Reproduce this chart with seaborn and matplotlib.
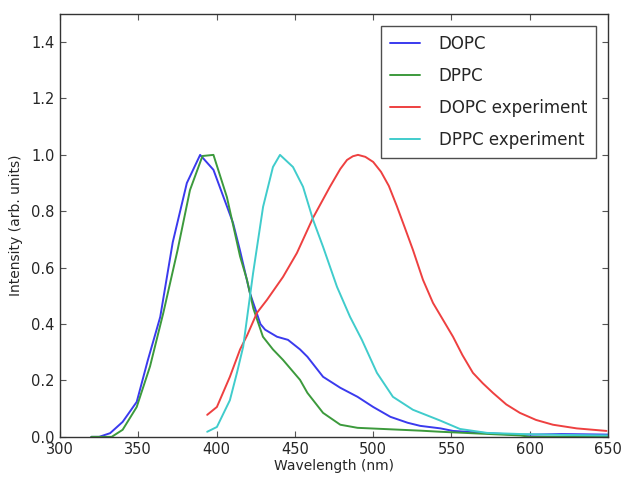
import numpy as np
import pandas as pd
import matplotlib
matplotlib.use("Agg")
import matplotlib.pyplot as plt
import seaborn as sns

# ---- data ----
dopc_x = [320, 325, 332, 340, 349, 356, 364, 372, 381, 389.5, 398, 410.5, 415, 421.3, 428, 431, 438.6, 445.6, 453.3, 458, 468, 479, 490, 500, 511, 522, 530, 543, 551, 573, 594, 620, 650]
dopc_y = [0.0, 0.0, 0.013, 0.053, 0.124, 0.27, 0.425, 0.69, 0.90, 1.0, 0.947, 0.759, 0.66, 0.51, 0.40, 0.38, 0.355, 0.344, 0.31, 0.284, 0.213, 0.174, 0.142, 0.106, 0.071, 0.050, 0.039, 0.030, 0.021, 0.013, 0.007, 0.010, 0.008]

dppc_x = [320, 333, 340, 349, 357.5, 366, 375, 383, 391, 398, 406.6, 415, 419.4, 423.5, 429.6, 436, 442.4, 453.3, 458, 468, 479, 490, 530, 543, 594, 600, 650]
dppc_y = [0.0, 0.0, 0.025, 0.106, 0.25, 0.44, 0.66, 0.875, 0.996, 1.0, 0.85, 0.64, 0.557, 0.455, 0.355, 0.31, 0.273, 0.202, 0.156, 0.085, 0.043, 0.032, 0.022, 0.018, 0.005, 0.0, 0.0]

dopc_exp_x = [394, 400.2, 408.5, 415, 419.5, 425.8, 432.2, 442.4, 451.3, 461.6, 472.4, 479, 483.3, 487, 490.3, 495, 500, 505, 510, 515, 520, 525.4, 531.8, 538.2, 544.6, 551, 557, 563.7, 570, 576.5, 585, 593.7, 604, 614.8, 630, 649]
dopc_exp_y = [0.078, 0.106, 0.213, 0.31, 0.36, 0.44, 0.486, 0.567, 0.652, 0.777, 0.887, 0.95, 0.982, 0.995, 1.0, 0.993, 0.975, 0.94, 0.89, 0.82, 0.745, 0.663, 0.557, 0.475, 0.415, 0.355, 0.29, 0.227, 0.19, 0.156, 0.115, 0.085, 0.06, 0.043, 0.030, 0.021]

dppc_exp_x = [394, 400.2, 408.5, 413, 417, 423.3, 429.7, 436, 440.5, 448.8, 455.2, 461.6, 468, 476.9, 485.2, 492.8, 502.4, 512.6, 525.4, 542.7, 555.4, 572.7, 594, 620, 650]
dppc_exp_y = [0.018, 0.035, 0.13, 0.227, 0.32, 0.58, 0.816, 0.957, 1.0, 0.957, 0.887, 0.77, 0.674, 0.532, 0.426, 0.344, 0.227, 0.142, 0.096, 0.058, 0.028, 0.014, 0.010, 0.007, 0.005]

labels = ["DOPC", "DPPC", "DOPC experiment", "DPPC experiment"]
colors = ["#3a3aee", "#3c9a3c", "#ee4040", "#40cccc"]

frames = []
for lab, xs, ys in zip(labels, [dopc_x, dppc_x, dopc_exp_x, dppc_exp_x],
                       [dopc_y, dppc_y, dopc_exp_y, dppc_exp_y]):
    frames.append(pd.DataFrame({"Wavelength": xs, "Intensity": ys, "series": lab}))
df = pd.concat(frames, ignore_index=True)

sns.set_style("ticks")
plt.rcParams["font.family"] = ["DejaVu Sans"]
plt.rcParams["xtick.direction"] = "in"
plt.rcParams["ytick.direction"] = "in"
plt.rcParams["xtick.top"] = True
plt.rcParams["ytick.right"] = True

fig = plt.figure(figsize=(6.23, 4.79), dpi=100)
ax = fig.add_axes([0.0963, 0.088, 0.8797, 0.883])

sns.lineplot(data=df, x="Wavelength", y="Intensity", hue="series",
             palette=dict(zip(labels, colors)), hue_order=labels,
             sort=False, estimator=None, linewidth=1.4, ax=ax)

ax.set_xlim(300, 650)
ax.set_ylim(0, 1.5)
ax.set_xticks(np.arange(300, 651, 50))
ax.set_yticks(np.arange(0, 1.41, 0.2))
ax.set_yticklabels([f"{v:.1f}" for v in np.arange(0, 1.41, 0.2)])
ax.set_xlabel("Wavelength (nm)", fontsize=10, labelpad=1)
ax.set_ylabel("Intensity (arb. units)", fontsize=10, labelpad=6)
ax.tick_params(labelsize=10.5, length=4, color="#555555", pad=4)
for s in ax.spines.values():
    s.set_color("#333333")
    s.set_linewidth(1.0)

leg = ax.legend(loc="upper right", fontsize=12, frameon=True, fancybox=False,
                handlelength=1.8, borderpad=0.55, labelspacing=0.85, handletextpad=1.15,
                borderaxespad=0.7, title=None)
leg.get_frame().set_edgecolor("#222222")
leg.get_frame().set_linewidth(1.0)

fig.savefig("out.png", dpi=100)
